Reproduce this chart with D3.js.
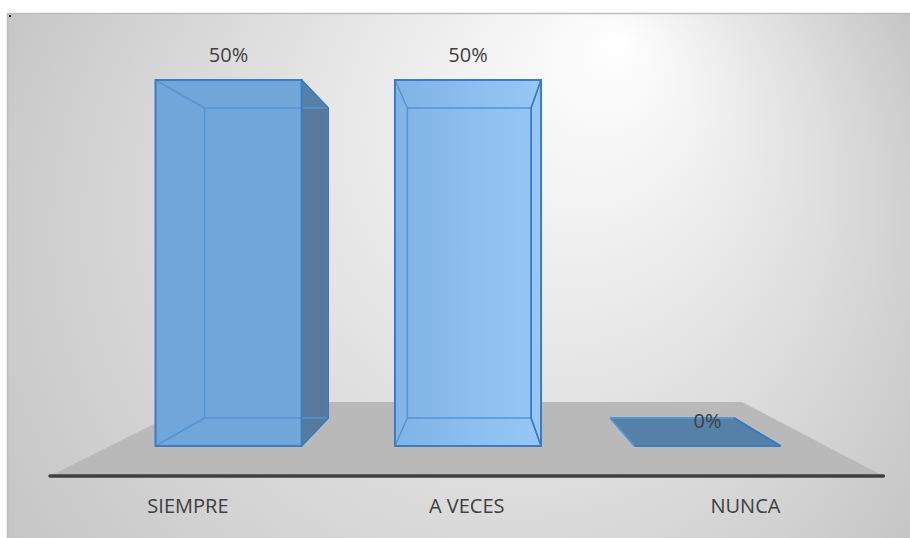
<!DOCTYPE html>
<html>
<head>
<meta charset="utf-8">
<script src="https://cdn.jsdelivr.net/npm/d3@7"></script>
<style>
  body { margin: 0; background: #fff; }
  svg { display: block; }
  .label { font-family: "Open Sans", sans-serif; font-size: 20px; fill: #404040; }
</style>
</head>
<body>
<div id="chart"></div>
<script>
// chart data
const categories = ["SIEMPRE", "A VECES", "NUNCA"];
const values = [0.5, 0.5, 0];
const yDomain = [0, 0.5];

const width = 910, height = 538;

// simple perspective: vanishing point and depth factors
const vp = [476, 263];
const depth = {floorFront: 1.164, barFront: 1, barBack: 0.847, floorBack: 0.76};
const proj = (x, y, s) => [vp[0] + (x - vp[0]) * s, vp[1] + (y - vp[1]) * s];

const svg = d3.select("#chart").append("svg")
    .attr("width", width)
    .attr("height", height);

const defs = svg.append("defs");

// background: off-centre radial gradient
const bg = defs.append("radialGradient")
    .attr("id", "bg")
    .attr("gradientUnits", "userSpaceOnUse")
    .attr("cx", 455).attr("cy", 276).attr("r", 525)
    .attr("fx", 620).attr("fy", 40);
bg.append("stop").attr("offset", 0).attr("stop-color", "#ffffff");
bg.append("stop").attr("offset", 1).attr("stop-color", "#c5c5c5");

// bar front gradient (lighter toward right of chart)
const fg = defs.append("linearGradient")
    .attr("id", "barfill")
    .attr("gradientUnits", "userSpaceOnUse")
    .attr("x1", 290).attr("x2", 545).attr("y1", 0).attr("y2", 0);
fg.append("stop").attr("offset", 0).attr("stop-color", "#70a6da");
fg.append("stop").attr("offset", 1).attr("stop-color", "#97c8f7");

svg.append("rect")
    .attr("x", 7.5).attr("y", 13.5)
    .attr("width", width).attr("height", height)
    .attr("fill", "url(#bg)")
    .attr("stroke", "#bdbdbd")
    .attr("stroke-width", 1.5);

svg.append("rect").attr("x", 9).attr("y", 15).attr("width", 2).attr("height", 2).attr("fill", "#111");

// scales
const x = d3.scaleBand()
    .domain(categories)
    .range([110, 826])
    .paddingInner(0.39)
    .paddingOuter(0.19);

const y = d3.scaleLinear()
    .domain(yDomain)
    .range([446, 80]);

const line = d3.line();
const [x0r, x1r] = x.range();

// floor
const floorPts = [
  proj(x0r, y(0), depth.floorFront),
  proj(x0r, y(0), depth.floorBack),
  proj(x1r, y(0), depth.floorBack),
  proj(x1r, y(0), depth.floorFront)
];
svg.append("path")
    .attr("d", line(floorPts) + "Z")
    .attr("fill", "#b9b9b9");

svg.append("path")
    .attr("d", line([floorPts[0], floorPts[3]]))
    .attr("stroke", "#3f3f3f")
    .attr("stroke-width", 3.5)
    .attr("stroke-linecap", "round");

// bars as transparent boxes
const data = categories.map((c, i) => ({category: c, value: values[i]}));
const bw = x.bandwidth();
const sF = depth.barFront, sB = depth.barBack;

data.forEach(d => {
  const xa = x(d.category), xb = xa + bw;
  const yt = y(d.value), yb = y(0);
  const g = svg.append("g");
  const face = (pts, fill, op) => g.append("path")
      .attr("d", line(pts) + "Z")
      .attr("fill", fill)
      .attr("fill-opacity", op);

  const back = [proj(xa, yt, sB), proj(xb, yt, sB), proj(xb, yb, sB), proj(xa, yb, sB)];
  const front = [proj(xa, yt, sF), proj(xb, yt, sF), proj(xb, yb, sF), proj(xa, yb, sF)];

  face(back, "#6a9fd3", 1);
  face([front[3], front[2], back[2], back[3]], "#5581a9", 1); // bottom
  face([front[0], front[3], back[3], back[0]], "#57799b", 1); // left
  face([front[1], front[2], back[2], back[1]], "#57799b", 1); // right
  face([front[0], front[1], back[1], back[0]], "#5581a9", 1); // top
  if (d.value > 0) face(front, "url(#barfill)", 1);

  // hidden/back edges
  const edge = (a, b, col, w) => g.append("path")
      .attr("d", line([a, b]))
      .attr("stroke", col)
      .attr("stroke-width", w)
      .attr("fill", "none");
  const inner = "#5594d3";
  for (let k = 0; k < 4; k++) {
    edge(back[k], back[(k + 1) % 4], inner, 1.5);
    edge(front[k], back[k], inner, 1.5);
  }
  // right side outer edges
  edge(front[1], back[1], "#3a78bd", 1.5);
  edge(back[1], back[2], "#3a78bd", 1.5);
  edge(back[2], front[2], "#3a78bd", 1.5);

  g.append("path")
      .attr("d", line(front) + "Z")
      .attr("fill", "none")
      .attr("stroke", "#3b7dc5")
      .attr("stroke-width", 2);
});

// value labels
svg.selectAll(".value")
  .data(data)
  .join("text")
    .attr("class", "label value")
    .attr("x", d => x(d.category) + bw / 2)
    .attr("y", d => y(d.value) - 18)
    .attr("text-anchor", "middle")
    .text(d => d3.format(".0%")(d.value));

// category labels on the floor front
svg.selectAll(".cat")
  .data(categories)
  .join("text")
    .attr("class", "label cat")
    .attr("x", c => proj(x(c) + bw / 2, y(0), depth.floorFront)[0])
    .attr("y", 513)
    .attr("text-anchor", "middle")
    .text(c => c);
</script>
</body>
</html>
